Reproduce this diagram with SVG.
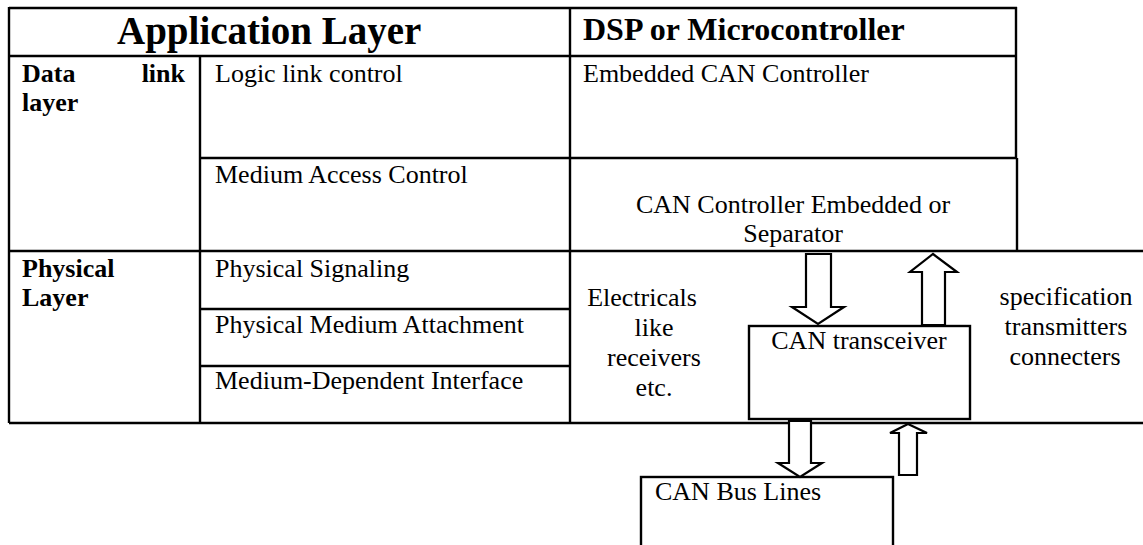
<svg xmlns="http://www.w3.org/2000/svg" width="1143" height="545" viewBox="0 0 1143 545">
  <style>
    .ln { stroke: #000; stroke-width: 2.4; fill: none; }
    .box { stroke: #000; stroke-width: 2.4; fill: #fff; }
    .arrow { stroke: #000; stroke-width: 2.2; fill: #fff; stroke-linejoin: miter; }
    .t { font-family: "Liberation Serif", "Times New Roman", serif; font-size: 26px; fill: #000; }
    .b { font-weight: bold; }
    .h1 { font-size: 39px; }
    .h2 { font-size: 32px; }
    .c { text-anchor: middle; }
  </style>
  <rect width="1143" height="545" fill="#fff"/>

  <!-- layer table grid -->
  <g id="table-grid">
    <line class="ln" x1="9" y1="8" x2="1017" y2="8"/>
    <line class="ln" x1="9" y1="7" x2="9" y2="423"/>
    <line class="ln" x1="9" y1="56" x2="1017" y2="56"/>
    <line class="ln" x1="570" y1="7" x2="570" y2="423"/>
    <line class="ln" x1="1016" y1="7" x2="1016" y2="158"/>
    <line class="ln" x1="200" y1="56" x2="200" y2="423"/>
    <line class="ln" x1="200" y1="158" x2="1017" y2="158"/>
    <line class="ln" x1="1017" y1="158" x2="1017" y2="251"/>
    <line class="ln" x1="9" y1="251" x2="1143" y2="251"/>
    <line class="ln" x1="200" y1="309" x2="570" y2="309"/>
    <line class="ln" x1="200" y1="366" x2="570" y2="366"/>
    <line class="ln" x1="9" y1="423" x2="1143" y2="423"/>
  </g>

  <g id="application-layer">
    <text class="t b h1" x="117" y="44">Application Layer</text>
  </g>
  <g id="dsp-microcontroller">
    <text class="t b h2" x="583" y="40">DSP or Microcontroller</text>
  </g>

  <g id="data-link-layer">
    <text class="t b" x="22" y="82">Data</text>
    <text class="t b" x="185" y="82" text-anchor="end">link</text>
    <text class="t b" x="22" y="111">layer</text>
  </g>
  <g id="logic-link-control">
    <text class="t" x="215" y="82">Logic link control</text>
  </g>
  <g id="embedded-can-controller">
    <text class="t" x="583" y="82">Embedded CAN Controller</text>
  </g>
  <g id="medium-access-control">
    <text class="t" x="215" y="183">Medium Access Control</text>
  </g>
  <g id="can-controller-separator">
    <text class="t c" x="793" y="213">CAN Controller Embedded or</text>
    <text class="t c" x="793" y="242">Separator</text>
  </g>

  <g id="physical-layer">
    <text class="t b" x="22" y="277">Physical</text>
    <text class="t b" x="22" y="306">Layer</text>
  </g>
  <g id="physical-signaling">
    <text class="t" x="215" y="277">Physical Signaling</text>
  </g>
  <g id="physical-medium-attachment">
    <text class="t" x="215" y="333">Physical Medium Attachment</text>
  </g>
  <g id="medium-dependent-interface">
    <text class="t" x="215" y="389">Medium-Dependent Interface</text>
  </g>

  <g id="electricals-note">
    <text class="t c" x="642" y="306">Electricals</text>
    <text class="t c" x="654" y="336">like</text>
    <text class="t c" x="654" y="366">receivers</text>
    <text class="t c" x="654" y="396">etc.</text>
  </g>

  <g id="specification-note">
    <text class="t c" x="1066" y="305">specification</text>
    <text class="t c" x="1066" y="335">transmitters</text>
    <text class="t c" x="1065" y="365">connecters</text>
  </g>

  <g id="can-transceiver">
    <rect class="box" x="749" y="326" width="221" height="93"/>
    <text class="t c" x="859" y="349">CAN transceiver</text>
  </g>

  <g id="can-bus-lines">
    <rect class="box" x="641" y="477" width="252" height="90"/>
    <text class="t" x="655" y="500">CAN Bus Lines</text>
  </g>

  <!-- block arrows between controller, transceiver and bus -->
  <g id="connectors">
    <polygon class="arrow" points="806,254 831,254 831,307 844,307 818,324 792,307 806,307"/>
    <polygon class="arrow" points="933,254 957,272 945,272 945,325 922,325 922,272 910,272"/>
    <polygon class="arrow" points="789,421 811,421 811,463 822,463 800,477 778,463 789,463"/>
    <polygon class="arrow" points="908,424 927,433 917,433 917,475 899,475 899,433 890,433"/>
  </g>
</svg>
